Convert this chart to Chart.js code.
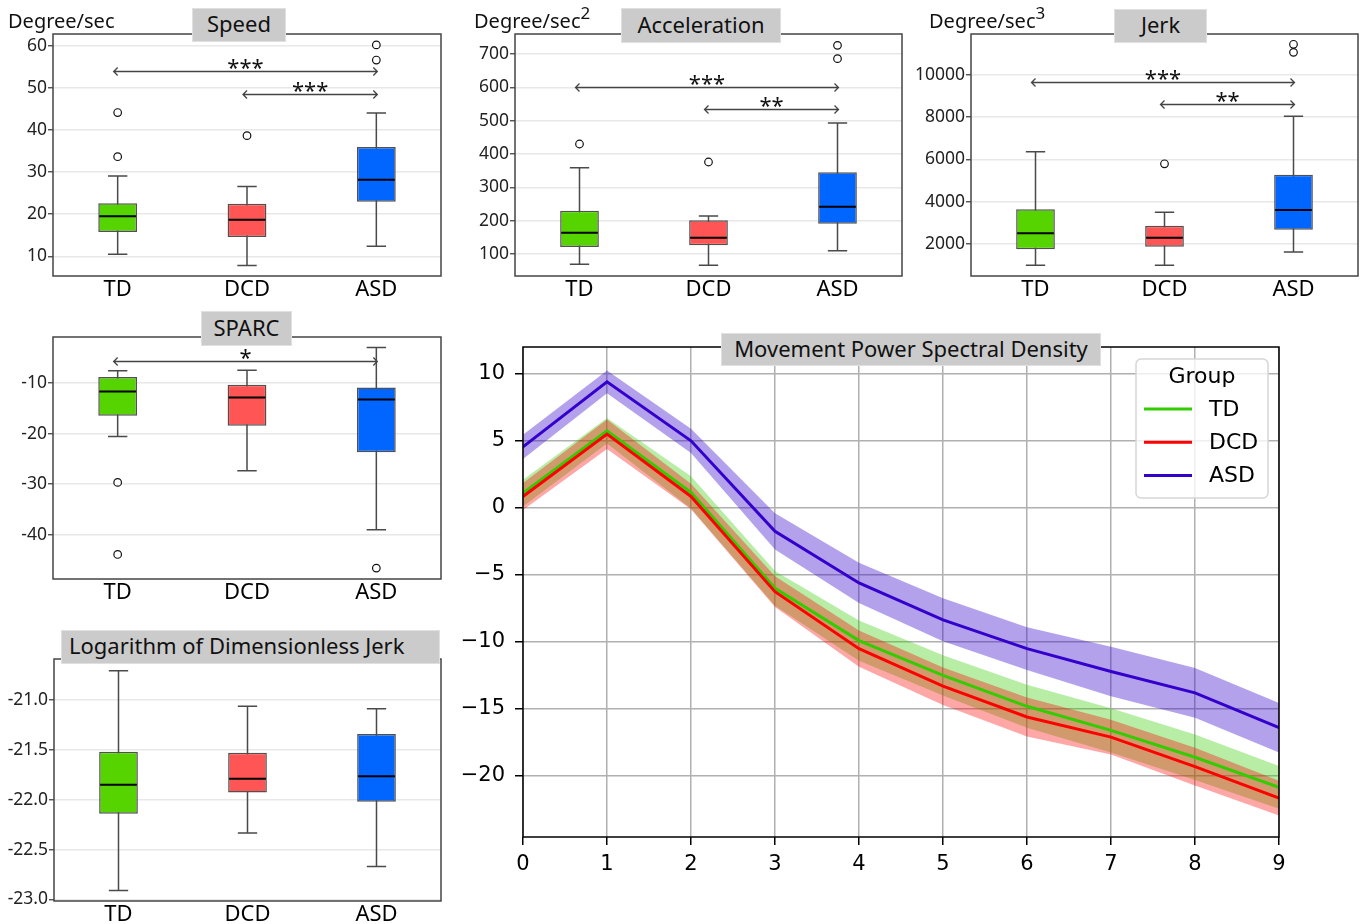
<!DOCTYPE html>
<html>
<head>
<meta charset="utf-8">
<script src="https://cdn.jsdelivr.net/npm/chart.js@4.4.1/dist/chart.umd.min.js"></script>
<style>
  body { margin: 0; background: #fff; }
  #page { position: relative; width: 1364px; height: 924px; overflow: hidden; font-family: 'Noto Sans', sans-serif; }
  canvas { position: absolute; }
  .ttl { position: absolute; background: #cbcbcb; border: 1.5px solid #e0e0e0; box-sizing: border-box; padding-bottom: 4px;
         display: flex; align-items: center; justify-content: center; font-size: 22px; color: #111; white-space: nowrap; }
  .unit { position: absolute; font-size: 20px; line-height: 24px; color: #111; white-space: nowrap; }
  .unit sup { font-size: 17px; line-height: 0; vertical-align: 9px; }
</style>
</head>
<body>
<div id="page">
  <canvas id="cSpeed"></canvas>
  <canvas id="cAcc"></canvas>
  <canvas id="cJerk"></canvas>
  <canvas id="cSparc"></canvas>
  <canvas id="cLdj"></canvas>
  <canvas id="cPsd"></canvas>

  <div class="unit" style="left:8px;top:9px">Degree/sec</div>
  <div class="unit" style="left:474px;top:9px">Degree/sec<sup>2</sup></div>
  <div class="unit" style="left:929px;top:9px">Degree/sec<sup>3</sup></div>

  <div class="ttl" style="left:192px;top:8px;width:94px;height:34px">Speed</div>
  <div class="ttl" style="left:621px;top:8px;width:160px;height:35px">Acceleration</div>
  <div class="ttl" style="left:1114px;top:9px;width:93px;height:34px">Jerk</div>
  <div class="ttl" style="left:201px;top:311px;width:91px;height:35px">SPARC</div>
  <div class="ttl" style="left:61px;top:630px;width:379px;height:34px;justify-content:flex-start;padding-left:7px">Logarithm of Dimensionless Jerk</div>
  <div class="ttl" style="left:721px;top:333px;width:380px;height:33px">Movement Power Spectral Density</div>
</div>

<script>
// groups + box colours
const groups = ['TD', 'DCD', 'ASD'];
const boxColors = ['#55d400', '#ff5555', '#0066ff'];

// Speed (Degree/sec)
const speedQ1 = [15.8, 14.6, 23.0];
const speedMed = [19.5, 18.7, 28.2];
const speedQ3 = [22.6, 22.5, 36.0];
const speedLow = [10.5, 7.8, 12.4];
const speedHigh = [29.1, 26.6, 44.1];
const speedOut = [[44.2, 33.7], [38.7], [60.3, 56.7]];
const speedTicks = [10, 20, 30, 40, 50, 60];
const speedSig = [[0, 2, 54.0, '***'], [1, 2, 48.6, '***']];

// Acceleration (Degree/sec^2)
const accQ1 = [121, 126, 191];
const accMed = [164, 149, 242];
const accQ3 = [230, 201, 345];
const accLow = [69, 66, 110];
const accHigh = [359, 214, 493];
const accOut = [[430], [376], [726, 686]];
const accTicks = [100, 200, 300, 400, 500, 600, 700];
const accSig = [[0, 2, 602, '***'], [1, 2, 536, '**']];

// Jerk (Degree/sec^3)
const jerkQ1 = [1752, 1874, 2677];
const jerkMed = [2507, 2299, 3608];
const jerkQ3 = [3641, 2866, 5276];
const jerkLow = [995, 995, 1624];
const jerkHigh = [6362, 3499, 8049];
const jerkOut = [[], [5795], [11450, 11070]];
const jerkTicks = [2000, 4000, 6000, 8000, 10000];
const jerkSig = [[0, 2, 9655, '***'], [1, 2, 8602, '**']];

// SPARC
const sparcQ1 = [-16.47, -18.45, -23.7];
const sparcMed = [-11.66, -12.85, -13.24];
const sparcQ3 = [-8.8, -10.34, -10.87];
const sparcLow = [-20.56, -27.35, -39.0];
const sparcHigh = [-7.57, -7.5, -3.0];
const sparcOut = [[-29.66, -43.9], [], [-46.6]];
const sparcTicks = [-40, -30, -20, -10];
const sparcSig = [[0, 2, -5.73, '*']];

// Logarithm of dimensionless jerk
const ldjQ1 = [-22.14, -21.927, -22.02];
const ldjMed = [-21.85, -21.79, -21.766];
const ldjQ3 = [-21.52, -21.53, -21.34];
const ldjLow = [-22.91, -22.334, -22.67];
const ldjHigh = [-20.706, -21.064, -21.087];
const ldjOut = [[], [], []];
const ldjTicks = [-23.0, -22.5, -22.0, -21.5, -21.0];

// Movement PSD
const freqs = [0, 1, 2, 3, 4, 5, 6, 7, 8, 9];
const psdTicks = [-20, -15, -10, -5, 0, 5, 10];
const tdMean  = [1.1, 5.75, 1.15, -6.0, -9.9, -12.5, -14.8, -16.6, -18.6, -20.85];
const tdUpper = [2.1, 6.7, 2.35, -4.7, -8.4, -11.0, -13.2, -14.95, -16.9, -19.25];
const tdLower = [0.1, 4.8, -0.05, -7.3, -11.4, -14.0, -16.4, -18.25, -20.3, -22.45];
const dcdMean  = [0.85, 5.5, 0.85, -6.25, -10.5, -13.3, -15.6, -17.1, -19.3, -21.65];
const dcdUpper = [1.85, 6.6, 1.8, -5.1, -9.15, -11.9, -14.15, -15.8, -17.9, -20.35];
const dcdLower = [-0.15, 4.4, -0.1, -7.4, -11.85, -14.7, -17.05, -18.4, -20.7, -22.95];
const asdMean  = [4.55, 9.4, 5.0, -1.75, -5.6, -8.35, -10.5, -12.2, -13.8, -16.4];
const asdUpper = [5.45, 10.25, 5.9, -0.4, -4.1, -6.75, -8.9, -10.35, -11.95, -14.55];
const asdLower = [3.65, 8.55, 4.1, -3.1, -7.1, -9.95, -12.1, -14.05, -15.65, -18.25];

Chart.defaults.font.family = "'Noto Sans', sans-serif";
Chart.defaults.animation = false;

// put a canvas at rect [x, y, w, h] and work out padding so the plot area is area [l, t, r, b]
function place(id, rect, area) {
  const cv = document.getElementById(id);
  cv.width = rect[2]; cv.height = rect[3];
  cv.style.left = rect[0] + 'px'; cv.style.top = rect[1] + 'px';
  return {
    cv,
    pad: { left: 0, top: area[1] - rect[1], right: rect[0] + rect[2] - area[2], bottom: 0 },
    yW: area[0] - rect[0],
    xH: rect[1] + rect[3] - area[3]
  };
}

function frame(chart, color) {
  const a = chart.chartArea, ctx = chart.ctx;
  ctx.save();
  ctx.strokeStyle = color; ctx.lineWidth = 1.5;
  ctx.strokeRect(a.left, a.top, a.right - a.left, a.bottom - a.top);
  ctx.restore();
}

// whiskers, medians, frame and significance brackets
function boxParts(p) {
  return {
    id: 'boxParts',
    beforeDatasetsDraw(chart) {
      const ctx = chart.ctx, ys = chart.scales.y;
      const bars = chart.getDatasetMeta(0).data;
      ctx.save();
      ctx.strokeStyle = '#4a4a4a'; ctx.lineWidth = 1.5;
      bars.forEach((b, i) => {
        const cap = b.width / 4;
        const yl = ys.getPixelForValue(p.low[i]), yh = ys.getPixelForValue(p.high[i]);
        ctx.beginPath();
        ctx.moveTo(b.x, yl); ctx.lineTo(b.x, yh);
        ctx.moveTo(b.x - cap, yl); ctx.lineTo(b.x + cap, yl);
        ctx.moveTo(b.x - cap, yh); ctx.lineTo(b.x + cap, yh);
        ctx.stroke();
      });
      ctx.restore();
    },
    afterDatasetsDraw(chart) {
      const ctx = chart.ctx, ys = chart.scales.y, xs = chart.scales.x;
      const bars = chart.getDatasetMeta(0).data;
      ctx.save();
      ctx.strokeStyle = '#000'; ctx.lineWidth = 2;
      bars.forEach((b, i) => {
        const y = ys.getPixelForValue(p.med[i]);
        ctx.beginPath();
        ctx.moveTo(b.x - b.width / 2 + 1, y); ctx.lineTo(b.x + b.width / 2 - 1, y);
        ctx.stroke();
      });
      (p.sig || []).forEach(([a, b, v, txt]) => {
        const x1 = xs.getPixelForValue(a) - 4, x2 = xs.getPixelForValue(b) + 1;
        const y = Math.round(ys.getPixelForValue(v)) + 0.5;
        ctx.strokeStyle = '#444'; ctx.lineWidth = 1.3;
        ctx.beginPath();
        ctx.moveTo(x1, y); ctx.lineTo(x2, y);
        ctx.moveTo(x1 + 4, y - 4); ctx.lineTo(x1, y); ctx.lineTo(x1 + 4, y + 4);
        ctx.moveTo(x2 - 4, y - 4); ctx.lineTo(x2, y); ctx.lineTo(x2 - 4, y + 4);
        ctx.stroke();
        ctx.fillStyle = '#111';
        ctx.font = "22px 'Noto Sans'";
        ctx.textAlign = 'center'; ctx.textBaseline = 'alphabetic';
        ctx.fillText(txt, (x1 + x2) / 2, y + 3);
      });
      ctx.restore();
      frame(chart, '#444');
    }
  };
}

function boxChart(id, rect, area, yMin, yMax, p) {
  const g = place(id, rect, area);
  const outPts = [];
  p.out.forEach((vals, i) => vals.forEach(v => outPts.push({ x: groups[i], y: v })));
  return new Chart(g.cv, {
    type: 'bar',
    data: {
      labels: groups,
      datasets: [
        {
          data: p.q1.map((v, i) => [v, p.q3[i]]),
          backgroundColor: boxColors,
          borderColor: '#505050', borderWidth: 1.5, borderSkipped: false,
          barPercentage: 0.3, categoryPercentage: 1, order: 2
        },
        {
          type: 'line', data: outPts, showLine: false,
          pointRadius: 3.8, pointBackgroundColor: '#fff', pointBorderColor: '#111', pointBorderWidth: 1.2,
          order: 1
        }
      ]
    },
    options: {
      responsive: false,
      layout: { padding: g.pad },
      plugins: { legend: { display: false }, tooltip: { enabled: false } },
      scales: {
        x: {
          afterFit: s => { s.height = g.xH; },
          grid: { display: false, drawTicks: false },
          border: { display: false },
          ticks: { color: '#000', padding: 1, font: { size: 22 } }
        },
        y: {
          min: yMin, max: yMax,
          afterFit: s => { s.width = g.yW; },
          afterBuildTicks: s => { s.ticks = p.ticks.map(v => ({ value: v })); },
          grid: { color: '#e8e8e8', lineWidth: 1.5, tickColor: '#444', tickLength: 5, tickWidth: 1.3 },
          border: { display: false },
          ticks: { color: '#222', padding: 1, font: { size: 17.5 }, callback: p.fmt || (v => String(v)) }
        }
      }
    },
    plugins: [boxParts(p)]
  });
}

boxChart('cSpeed', [0, 0, 460, 305], [53, 34, 441, 276], 5.3, 62.9, {
  q1: speedQ1, med: speedMed, q3: speedQ3, low: speedLow, high: speedHigh,
  out: speedOut, ticks: speedTicks, sig: speedSig
});
boxChart('cAcc', [460, 0, 450, 305], [515, 34, 902, 276], 34, 760, {
  q1: accQ1, med: accMed, q3: accQ3, low: accLow, high: accHigh,
  out: accOut, ticks: accTicks, sig: accSig
});
boxChart('cJerk', [910, 0, 454, 305], [971, 34, 1358, 276], 488, 11937, {
  q1: jerkQ1, med: jerkMed, q3: jerkQ3, low: jerkLow, high: jerkHigh,
  out: jerkOut, ticks: jerkTicks, sig: jerkSig
});
boxChart('cSparc', [0, 305, 460, 305], [53, 337, 441, 579], -48.76, -0.9, {
  q1: sparcQ1, med: sparcMed, q3: sparcQ3, low: sparcLow, high: sparcHigh,
  out: sparcOut, ticks: sparcTicks, sig: sparcSig
});
boxChart('cLdj', [0, 615, 460, 309], [54, 659, 441, 901], -23.016, -20.589, {
  q1: ldjQ1, med: ldjMed, q3: ldjQ3, low: ldjLow, high: ldjHigh,
  out: ldjOut, ticks: ldjTicks, fmt: v => v.toFixed(1)
});

// ---- PSD line chart ----
const pts = arr => arr.map((v, i) => ({ x: freqs[i], y: v }));
const band = (upper, lower, color) => [
  { data: pts(upper), fill: '+1', backgroundColor: color, borderWidth: 0, pointRadius: 0, order: 1 },
  { data: pts(lower), fill: false, borderWidth: 0, pointRadius: 0, order: 1 }
];
const line = (label, arr, color) => ({
  label, data: pts(arr), borderColor: color, borderWidth: 3, pointRadius: 0, fill: false, order: 0
});

const psdLegend = {
  id: 'psdLegend',
  afterDraw(chart) {
    const ctx = chart.ctx, a = chart.chartArea;
    frame(chart, '#000');
    const w = 132, h = 139;
    const x0 = a.right - 11 - w, y0 = a.top + 12;
    ctx.save();
    ctx.fillStyle = 'rgba(255,255,255,0.8)';
    ctx.strokeStyle = '#d6d6d6'; ctx.lineWidth = 1.5;
    ctx.beginPath(); ctx.roundRect(x0, y0, w, h, 5); ctx.fill(); ctx.stroke();
    ctx.font = "22px 'DejaVu Sans'";
    ctx.fillStyle = '#000'; ctx.textBaseline = 'middle';
    ctx.textAlign = 'center';
    ctx.fillText('Group', x0 + 66, y0 + 18);
    ctx.textAlign = 'left';
    groups.forEach((gname, i) => {
      const d = chart.data.datasets.find(ds => ds.label === gname);
      const y = y0 + 50 + i * 33.3;
      ctx.strokeStyle = d.borderColor; ctx.lineWidth = 3;
      ctx.beginPath(); ctx.moveTo(x0 + 8, y); ctx.lineTo(x0 + 56, y); ctx.stroke();
      ctx.fillText(gname, x0 + 73, y + 1);
    });
    ctx.restore();
  }
};

const gp = place('cPsd', [460, 320, 904, 604], [523, 347, 1279, 837]);
const minus = v => (v < 0 ? '\u2212' + Math.abs(v) : String(v));
new Chart(gp.cv, {
  type: 'line',
  data: {
    datasets: [
      line('ASD', asdMean, '#3300cc'),
      line('DCD', dcdMean, '#ff0000'),
      line('TD', tdMean, '#33cc00'),
      ...band(asdUpper, asdLower, 'rgba(51,0,204,0.37)'),
      ...band(dcdUpper, dcdLower, 'rgba(255,0,0,0.35)'),
      ...band(tdUpper, tdLower, 'rgba(51,204,0,0.35)')
    ]
  },
  options: {
    responsive: false,
    layout: { padding: gp.pad },
    plugins: { legend: { display: false }, tooltip: { enabled: false } },
    scales: {
      x: {
        type: 'linear', min: 0, max: 9,
        afterFit: s => { s.height = gp.xH; },
        afterBuildTicks: s => { s.ticks = freqs.map(v => ({ value: v })); },
        grid: { color: '#b0b0b0', lineWidth: 1.5, tickColor: '#000', tickLength: 8, tickWidth: 1.5 },
        border: { display: false },
        ticks: { color: '#000', padding: 7, font: { family: "'DejaVu Sans'", size: 21 } }
      },
      y: {
        min: -24.55, max: 12,
        afterFit: s => { s.width = gp.yW; },
        afterBuildTicks: s => { s.ticks = psdTicks.map(v => ({ value: v })); },
        grid: { color: '#b0b0b0', lineWidth: 1.5, tickColor: '#000', tickLength: 8, tickWidth: 1.5 },
        border: { display: false },
        ticks: { color: '#000', padding: 10, font: { family: "'DejaVu Sans'", size: 21 }, callback: minus }
      }
    }
  },
  plugins: [psdLegend]
});
</script>
</body>
</html>
